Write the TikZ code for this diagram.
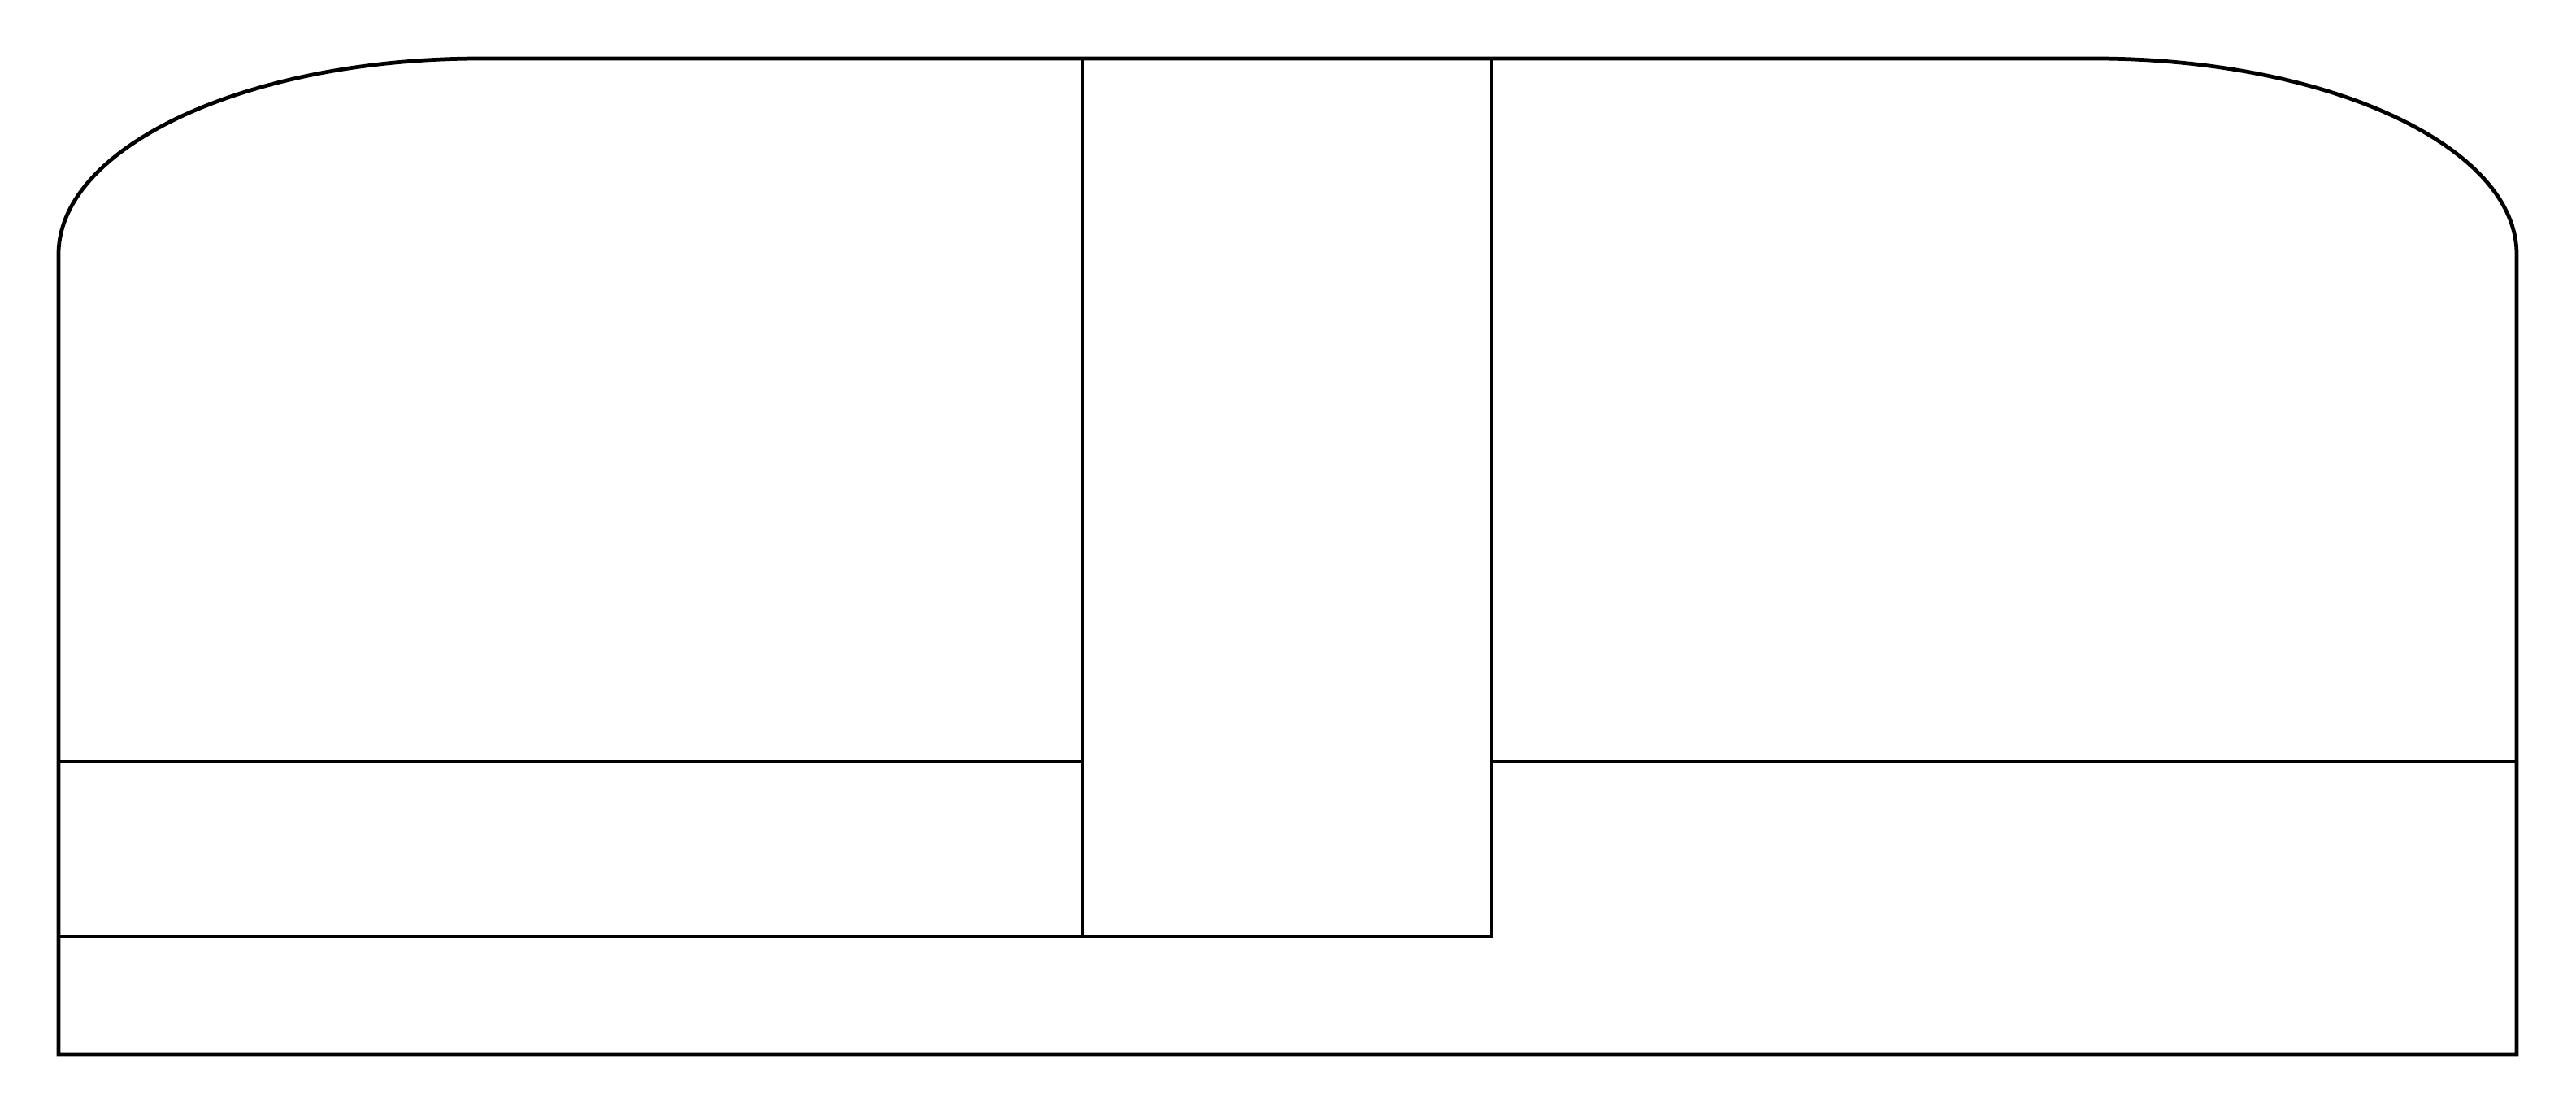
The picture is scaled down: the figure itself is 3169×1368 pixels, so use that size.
\documentclass[tikz,border=0pt]{standalone}
\usepackage{tikz}
\tikzset{
  wall/.style={line width=1.35pt, draw=black, line join=miter},
}
\begin{document}
\begin{tikzpicture}[x=0.01cm,y=-0.01cm]
  \useasboundingbox (0,0) rectangle (3169,1368);
  \coordinate (BL) at (72,1297);
  \coordinate (BR) at (3096,1297);
  \coordinate (L) at (72,313);
  \coordinate (TR) at (2576,72);

  % outer outline with the two rounded top corners
  \draw[wall] (BL) -- (L)
    arc[start angle=180, end angle=270, x radius=520, y radius=241]
    -- (TR)
    arc[start angle=270, end angle=360, x radius=520, y radius=241]
    -- (BR) -- cycle;

  % middle band
  \coordinate (MT) at (1332,72);
  \coordinate (MB) at (1835,1152);
  \draw[wall] (MT) rectangle (MB);

  \draw[wall] (72,937) -- (1332,937);
  \draw[wall] (1835,937) -- (3096,937);
  \draw[wall] (72,1152) -- (1332,1152);
\end{tikzpicture}
\end{document}
